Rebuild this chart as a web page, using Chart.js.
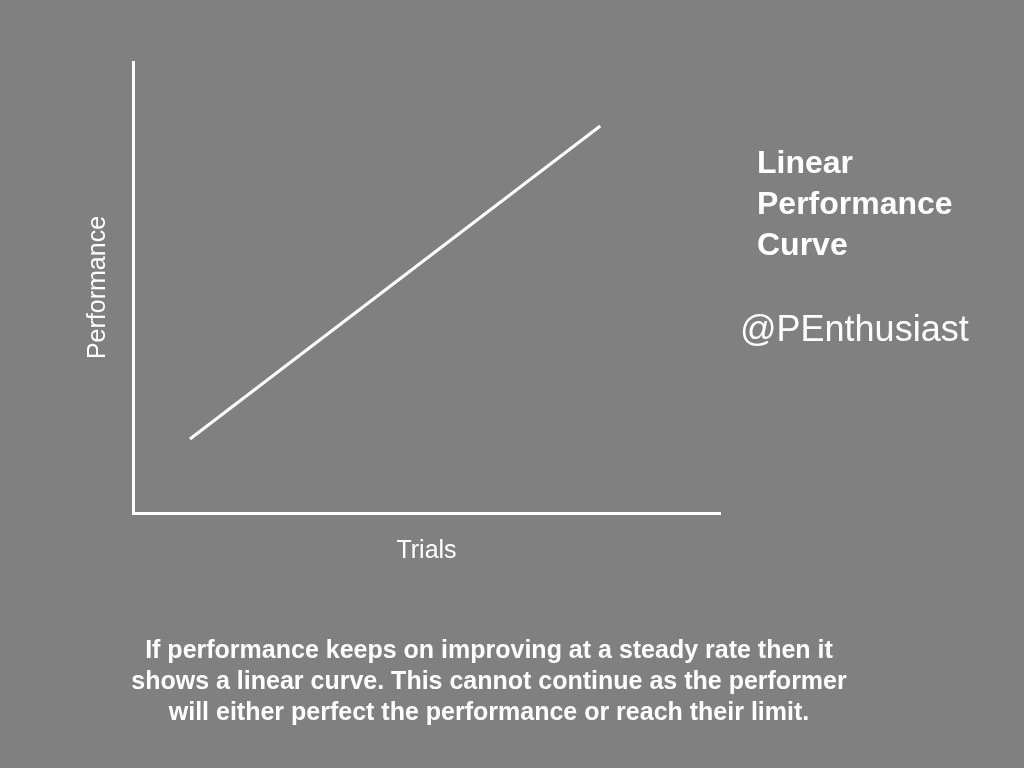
<!DOCTYPE html>
<html><head><meta charset="utf-8">
<script src="https://cdn.jsdelivr.net/npm/chart.js"></script>
<style>
html,body{margin:0;padding:0;background:#808080;width:1024px;height:768px;overflow:hidden;font-family:"Liberation Sans",Arial,sans-serif;color:#fff}
#wrap{position:absolute;left:0;top:0;width:1024px;height:768px}
.t{position:absolute;white-space:nowrap}
</style></head><body>
<div id="wrap"><canvas id="c" width="1024" height="768"></canvas></div>
<div class="t" style="left:757px;top:142px;font-size:32px;font-weight:bold;line-height:41px">Linear<br>Performance<br>Curve</div>
<div class="t" style="left:740px;top:308px;font-size:36px">@PEnthusiast</div>
<div class="t" style="left:0;width:978px;top:634px;font-size:25px;font-weight:bold;line-height:31px;text-align:center;white-space:normal">If performance keeps on improving at a steady rate then it<br>shows a linear curve. This cannot continue as the performer<br>will either perfect the performance or reach their limit.</div>
<script>
const trials=[9.7,79.6];
const performance=[16.4,85.8];
const xTitle="Trials", yTitle="Performance";
new Chart(document.getElementById('c'),{
 type:'line',
 data:{datasets:[{data:trials.map((x,i)=>({x:x,y:performance[i]})),borderColor:'#fff',borderWidth:3,pointRadius:0,fill:false,tension:0}]},
 options:{responsive:false,animation:false,
  layout:{padding:{left:79,top:62,right:304,bottom:198}},
  plugins:{legend:{display:false},tooltip:{enabled:false}},
  scales:{
   x:{type:'linear',min:0,max:100,ticks:{display:false},grid:{display:false,drawTicks:false},border:{color:'#fff',width:3},
      title:{display:true,text:xTitle,color:'#fff',font:{family:'Liberation Sans',size:25},padding:{top:23,bottom:4}}},
   y:{type:'linear',min:0,max:100,ticks:{display:false},grid:{display:false,drawTicks:false},border:{color:'#fff',width:3},
      title:{display:true,text:yTitle,color:'#fff',font:{family:'Liberation Sans',size:25},padding:{top:4,bottom:20}}}
  }}
});
</script>
</body></html>
